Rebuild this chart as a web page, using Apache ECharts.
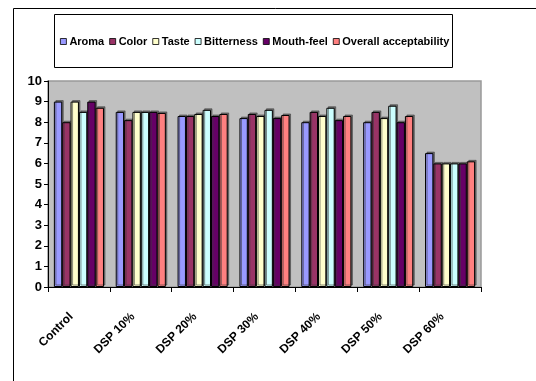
<!DOCTYPE html>
<html>
<head>
<meta charset="utf-8">
<script src="https://cdn.jsdelivr.net/npm/echarts@6/dist/echarts.min.js"></script>
<style>
  html, body { margin: 0; padding: 0; background: #fff; }
  #chart { width: 536px; height: 381px; }
</style>
</head>
<body>
<div id="chart"></div>
<script>
// Sensory scores of samples with increasing DSP substitution
const categories = ['Control', 'DSP 10%', 'DSP 20%', 'DSP 30%', 'DSP 40%', 'DSP 50%', 'DSP 60%'];
const seriesNames = ['Aroma', 'Color', 'Taste', 'Bitterness', 'Mouth-feel', 'Overall acceptability'];
const aroma      = [9.0, 8.5, 8.3, 8.2, 8.0, 8.0, 6.5];
const color      = [8.0, 8.1, 8.3, 8.4, 8.5, 8.5, 6.0];
const taste      = [9.0, 8.5, 8.4, 8.3, 8.3, 8.2, 6.0];
const bitterness = [8.5, 8.5, 8.6, 8.6, 8.7, 8.8, 6.0];
const mouthfeel  = [9.0, 8.5, 8.3, 8.2, 8.1, 8.0, 6.0];
const overall    = [8.7, 8.45, 8.4, 8.35, 8.3, 8.3, 6.1];
const yTicks = [0, 1, 2, 3, 4, 5, 6, 7, 8, 9, 10];

const seriesData = [aroma, color, taste, bitterness, mouthfeel, overall];
const palette = ['#9999FF', '#993366', '#FFFFCC', '#CCFFFF', '#660066', '#FF8080'];
const FONT = '"Liberation Sans", Arial, sans-serif';

const chart = echarts.init(document.getElementById('chart'), null, { renderer: 'canvas' });

chart.setOption({
  animation: false,
  backgroundColor: '#ffffff',
  color: palette,
  graphic: [
    {
      type: 'rect',
      shape: { x: 13.5, y: 8.5, width: 600, height: 400 },
      style: { fill: 'none', stroke: '#000', lineWidth: 1 },
      z: -10
    },
    {
      type: 'rect',
      shape: { x: 54.5, y: 14.5, width: 398, height: 53 },
      style: { fill: '#fff', stroke: '#000', lineWidth: 1 },
      z: -5
    }
  ],
  legend: {
    top: 31,
    left: 55,
    itemWidth: 6,
    itemHeight: 6,
    itemGap: 5,
    icon: 'rect',
    textStyle: { fontFamily: FONT, fontWeight: 'bold', fontSize: 11, color: '#000', padding: [0, 0, 0, -2] },
    itemStyle: { borderColor: '#000', borderWidth: 0.8 },
    data: seriesNames
  },
  grid: {
    left: 48, right: 55, top: 81, bottom: 94,
    show: true,
    backgroundColor: '#C0C0C0',
    borderColor: '#999999',
    borderWidth: 1.5
  },
  xAxis: {
    type: 'category',
    data: categories,
    axisLine: { lineStyle: { color: '#000', width: 1 } },
    axisTick: { show: true, length: 5, lineStyle: { color: '#000' }, alignWithLabel: false },
    axisLabel: {
      rotate: 45,
      margin: 20,
      padding: [0, 11, 0, 0],
      fontFamily: FONT,
      fontWeight: 'bold',
      fontSize: 12,
      color: '#000',
      interval: 0
    }
  },
  yAxis: {
    type: 'value',
    min: yTicks[0],
    max: yTicks[yTicks.length - 1],
    interval: 1,
    splitLine: { show: false },
    axisLine: { show: true, lineStyle: { color: '#000', width: 1 } },
    axisTick: { show: true, length: 4, lineStyle: { color: '#000' } },
    axisLabel: {
      margin: 6,
      fontFamily: FONT,
      fontWeight: 'bold',
      fontSize: 13,
      color: '#000'
    }
  },
  series: seriesNames.map((name, i) => ({
    name: name,
    type: 'bar',
    data: seriesData[i],
    barGap: '0%',
    barCategoryGap: '19%',
    itemStyle: {
      color: palette[i],
      borderColor: '#000',
      borderWidth: 1,
      shadowColor: 'rgba(60,60,60,0.6)',
      shadowOffsetX: 1.5,
      shadowOffsetY: -1.5,
      shadowBlur: 0
    }
  }))
});
</script>
</body>
</html>
